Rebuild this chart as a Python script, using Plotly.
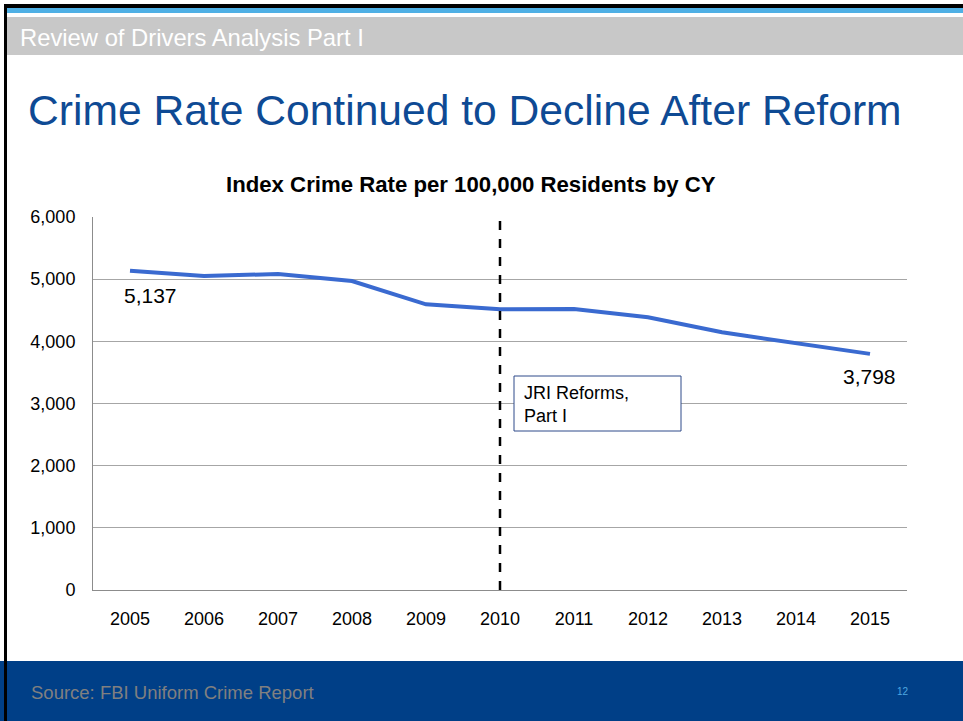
import plotly.graph_objects as go

years = [2005, 2006, 2007, 2008, 2009, 2010, 2011, 2012, 2013, 2014, 2015]
crime_rate = [5137, 5050, 5083, 4970, 4595, 4515, 4520, 4386, 4145, 3968, 3798]
y_ticks = [0, 1000, 2000, 3000, 4000, 5000, 6000]
reform_year = 2010

W, H = 963, 721
L, R, T, B = 93, 907, 217, 590
FONT = "Arial, Liberation Sans, sans-serif"


def px(x):
    return (x - L) / (R - L)


def py(y):
    return (B - y) / (B - T)


fig = go.Figure()
fig.add_trace(go.Scatter(
    x=years, y=crime_rate, mode="lines",
    line=dict(color="#3A6AD0", width=4),
    hoverinfo="x+y", showlegend=False,
))

shapes = []
# slide decorations
shapes.append(dict(type="rect", xref="paper", yref="paper", x0=px(0), x1=px(W), y0=py(661), y1=py(H + 2),
                   fillcolor="#003F87", line_width=0, layer="below"))
shapes.append(dict(type="rect", xref="paper", yref="paper", x0=px(7), x1=px(W), y0=py(55), y1=py(17),
                   fillcolor="#C8C8C8", line_width=0, layer="below"))
shapes.append(dict(type="rect", xref="paper", yref="paper", x0=px(7), x1=px(W), y0=py(13), y1=py(8),
                   fillcolor="#4FB0E5", line_width=0, layer="below"))
shapes.append(dict(type="rect", xref="paper", yref="paper", x0=px(4), x1=px(W), y0=py(8), y1=py(4),
                   fillcolor="#000000", line_width=0, layer="below"))
shapes.append(dict(type="rect", xref="paper", yref="paper", x0=px(4), x1=px(7), y0=py(H + 2), y1=py(4),
                   fillcolor="#000000", line_width=0, layer="below"))
# reform dashed line
shapes.append(dict(type="line", xref="x", yref="paper", x0=reform_year, x1=reform_year,
                   y0=0, y1=py(213), line=dict(color="#000000", width=2.5, dash="dash")))
# reform text box
shapes.append(dict(type="rect", xref="paper", yref="paper", x0=px(514), x1=px(681), y0=py(431), y1=py(376),
                   fillcolor="#FFFFFF", line=dict(color="#2F4A8A", width=1)))

annotations = [
    dict(text="Review of Drivers Analysis Part I", xref="paper", yref="paper", x=px(18), y=py(38),
         xanchor="left", yanchor="middle", showarrow=False, font=dict(family=FONT, size=23.8, color="#FFFFFF")),
    dict(text="Crime Rate Continued to Decline After Reform", xref="paper", yref="paper", x=px(26), y=py(110),
         xanchor="left", yanchor="middle", showarrow=False, font=dict(family=FONT, size=42.6, color="#0E4A94")),
    dict(text="<b>Index Crime Rate per 100,000 Residents by CY</b>", xref="paper", yref="paper", x=px(471), y=py(185),
         xanchor="center", yanchor="middle", showarrow=False, font=dict(family=FONT, size=22.2, color="#000000")),
    dict(text="Source: FBI Uniform Crime Report", xref="paper", yref="paper", x=px(29), y=py(692),
         xanchor="left", yanchor="middle", showarrow=False, font=dict(family=FONT, size=18.5, color="#808080")),
    dict(text="12", xref="paper", yref="paper", x=px(903), y=py(691),
         xanchor="center", yanchor="middle", showarrow=False, font=dict(family=FONT, size=10, color="#4FA8E0")),
    dict(text="JRI Reforms,<br>Part I", xref="paper", yref="paper", x=px(522), y=py(404),
         xanchor="left", yanchor="middle", align="left", showarrow=False,
         font=dict(family=FONT, size=18, color="#000000")),
    dict(text=f"{crime_rate[0]:,}", x=years[0], y=crime_rate[0], xref="x", yref="y",
         xanchor="center", yanchor="middle", xshift=20, yshift=-25, showarrow=False,
         font=dict(family=FONT, size=21, color="#000000")),
    dict(text=f"{crime_rate[-1]:,}", x=years[-1], y=crime_rate[-1], xref="x", yref="y",
         xanchor="center", yanchor="middle", xshift=-1, yshift=-23, showarrow=False,
         font=dict(family=FONT, size=21, color="#000000")),
]

fig.update_layout(
    width=W, height=H,
    margin=dict(l=L, r=W - R, t=T, b=H - B, pad=0),
    paper_bgcolor="#FFFFFF", plot_bgcolor="#FFFFFF",
    font=dict(family=FONT, size=18, color="#000000"),
    shapes=shapes, annotations=annotations,
    xaxis=dict(range=[years[0] - 0.5, years[-1] + 0.5], tickvals=years, ticktext=[str(y) for y in years],
               showgrid=False, zeroline=False, showline=True, linecolor="#8C8C8C", linewidth=1,
               ticks="", ticklabelstandoff=12, tickfont=dict(size=18)),
    yaxis=dict(range=[0, 6000], tickvals=y_ticks, tickformat=",", showgrid=True, gridcolor="#A6A6A6",
               gridwidth=1, zeroline=False, showline=True, linecolor="#8C8C8C", linewidth=1,
               ticks="", ticklabelstandoff=13, tickfont=dict(size=18)),
)

fig.write_html("out.html", config={"displayModeBar": False},
               post_script="document.body.style.margin='0';document.body.style.overflow='hidden';")
